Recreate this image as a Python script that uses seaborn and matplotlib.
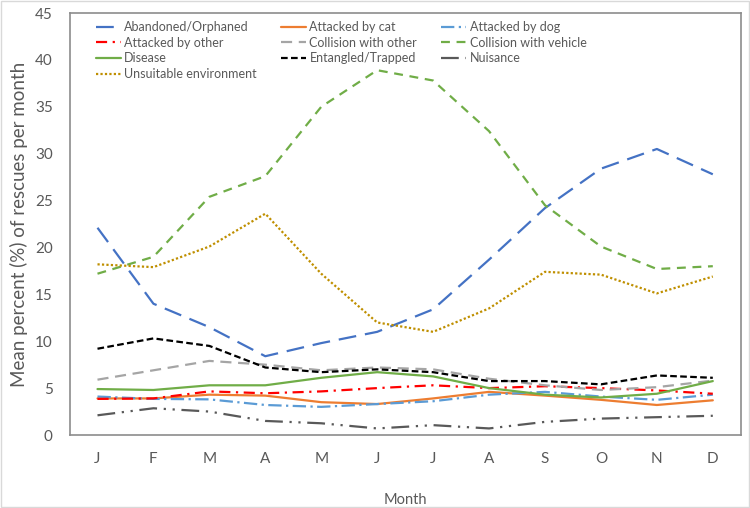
import matplotlib
matplotlib.use("Agg")
import matplotlib.pyplot as plt
import seaborn as sns
import pandas as pd

months = ["J", "F", "M", "A", "M", "J", "J", "A", "S", "O", "N", "D"]

abandoned = [22.1, 14.0, 11.5, 8.4, 9.8, 11.0, 13.4, 18.7, 24.2, 28.4, 30.5, 27.8]
attacked_cat = [3.9, 3.9, 4.3, 4.2, 3.5, 3.3, 3.9, 4.6, 4.2, 3.75, 3.2, 3.7]
attacked_dog = [4.1, 3.85, 3.8, 3.2, 3.0, 3.3, 3.6, 4.3, 4.6, 4.1, 3.75, 4.3]
attacked_other = [3.85, 3.9, 4.65, 4.45, 4.65, 5.0, 5.3, 5.0, 5.2, 5.0, 4.75, 4.4]
collision_other = [5.9, 6.9, 7.9, 7.5, 6.9, 7.2, 7.0, 6.0, 5.3, 4.8, 5.1, 5.8]
collision_vehicle = [17.2, 19.0, 25.4, 27.6, 35.0, 38.9, 37.8, 32.4, 24.5, 20.1, 17.7, 18.0]
disease = [4.9, 4.8, 5.3, 5.3, 6.1, 6.7, 6.25, 5.0, 4.3, 4.0, 4.4, 5.75]
entangled = [9.2, 10.3, 9.5, 7.2, 6.7, 7.0, 6.7, 5.75, 5.75, 5.4, 6.35, 6.1]
nuisance = [2.1, 2.85, 2.5, 1.5, 1.25, 0.7, 1.05, 0.7, 1.4, 1.75, 1.9, 2.05]
unsuitable = [18.2, 17.9, 20.1, 23.6, 17.2, 12.0, 11.0, 13.5, 17.4, 17.1, 15.1, 16.9]

series = {
    "Abandoned/Orphaned": (abandoned, "#4472C4", (0, (8, 4))),
    "Attacked by cat": (attacked_cat, "#ED7D31", "-"),
    "Attacked by dog": (attacked_dog, "#5B9BD5", (0, (6, 2, 1, 2))),
    "Attacked by other": (attacked_other, "#FF0000", (0, (5, 2.5, 1, 2.5))),
    "Collision with other": (collision_other, "#A5A5A5", (0, (5, 3))),
    "Collision with vehicle": (collision_vehicle, "#70AD47", (0, (4, 3))),
    "Disease": (disease, "#70AD47", "-"),
    "Entangled/Trapped": (entangled, "#000000", (0, (3, 1.5))),
    "Nuisance": (nuisance, "#595959", (0, (8, 3, 1, 3, 1, 3))),
    "Unsuitable environment": (unsuitable, "#BF8F00", (0, (1, 1))),
}

sns.set_style("white")
plt.rcParams["font.family"] = ["Lato", "DejaVu Sans"]

fig = plt.figure(figsize=(7.5, 5.08), dpi=100)
ax = fig.add_axes([0.0927, 0.1437, 0.895, 0.8307])

for name, (vals, col, ls) in series.items():
    df = pd.DataFrame({"x": range(len(months)), "y": vals})
    sns.lineplot(data=df, x="x", y="y", ax=ax, color=col, linestyle=ls,
                 linewidth=1.6, label=name)

ax.set_xlim(-0.5, 11.5)
ax.set_ylim(0, 45)
ax.set_yticks(range(0, 46, 5))
ax.set_xticks(range(len(months)))
ax.set_xticklabels(months)
ax.tick_params(axis="both", length=0, labelsize=11, labelcolor="#595959")
ax.tick_params(axis="x", pad=12)
ax.tick_params(axis="y", pad=12)
ax.set_xlabel("Month", fontsize=10.5, color="#595959", labelpad=20)
ax.set_ylabel("Mean percent (%) of rescues per month", fontsize=13.5, color="#595959", labelpad=5)
for s in ax.spines.values():
    s.set_color("#8c8c8c")
    s.set_linewidth(1.2)

# legend fills row by row in the reference
handles, labels = ax.get_legend_handles_labels()
order = [0, 3, 6, 9, 1, 4, 7, 2, 5, 8]
ax.legend([handles[i] for i in order], [labels[i] for i in order],
          loc="upper left", ncol=3, frameon=False, fontsize=9, handlelength=2.0,
          handletextpad=0.3, columnspacing=1.9, labelspacing=0.3,
          bbox_to_anchor=(0.022, 1.008), labelcolor="#595959")

fig.patches.append(plt.Rectangle((0.001, 0.001), 0.997, 0.997, transform=fig.transFigure,
                                 fill=False, edgecolor="#d9d9d9", linewidth=1))
fig.savefig("out.png", dpi=100)
